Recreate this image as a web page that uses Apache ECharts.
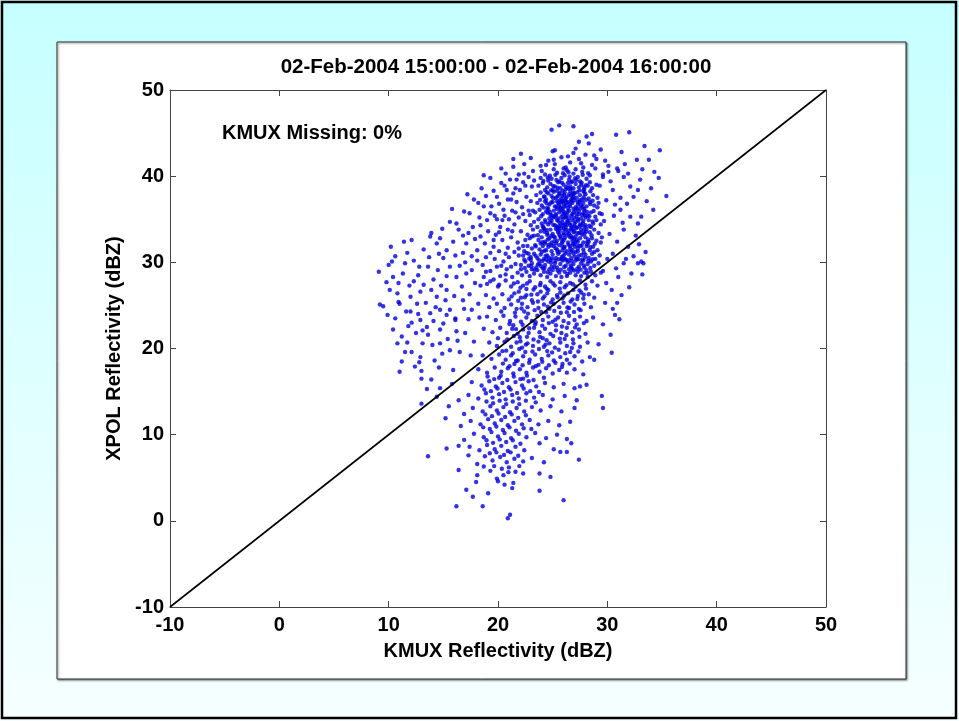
<!DOCTYPE html>
<html><head><meta charset="utf-8">
<script src="https://cdn.jsdelivr.net/npm/echarts@6/dist/echarts.min.js"></script>
<style>html,body{margin:0;padding:0;background:#fff}#c{width:959px;height:721px}</style>
</head><body><div id="c"></div><script>
const titleText = '02-Feb-2004 15:00:00 - 02-Feb-2004 16:00:00';
const xName = 'KMUX Reflectivity (dBZ)';
const yName = 'XPOL Reflectivity (dBZ)';
const noteText = 'KMUX Missing: 0%';
const axisMin = -10, axisMax = 50, axisStep = 10;
const identityLine = [[-10, -10], [50, 50]];

const topSparse = [[25.6,45.9],[26.9,45.8],[24.9,45.4],[30.8,44.8],[32.0,45.1],[28.1,44.6],[27.4,44.0],[28.3,43.8],[33.4,43.5],[34.8,43.0],[25.2,43.0],[25.8,42.2],[26.9,42.7],[28.0,42.5],[28.8,42.4],[29.4,43.1],[31.3,42.8],[32.7,41.9],[33.8,41.9],[34.3,40.5],[34.7,39.8],[35.4,37.7],[34.2,36.1],[32.8,34.5],[33.1,30.1],[33.3,29.9],[25.0,42.9],[24.6,41.8],[23.9,41.2],[27.6,41.5],[30.1,41.2],[31.0,40.6],[29.6,40.2],[26.2,41.0],[23.2,40.6],[22.4,40.3]];

const upperRight = [[29.6,39.9],[30.1,40.5],[30.9,40.9],[31.5,39.9],[32.1,38.8],[32.4,37.6],[32.8,38.4],[31.8,36.8],[31.2,36.1],[30.5,38.4],[29.9,37.2],[32.1,35.3],[33.1,35.3],[31.5,33.8],[30.9,32.4],[31.9,31.8],[32.4,30.7],[31.5,29.9],[30.5,31.0],[32.8,29.9],[31.0,28.3],[29.9,27.6],[33.6,37.1],[34.0,38.6],[33.0,39.6],[31.9,40.3],[29.3,38.9],[30.3,39.4],[29.1,36.4],[30.6,35.4],[29.7,34.8],[30.2,33.3],[29.4,32.3],[30.0,30.4],[31.4,34.6],[32.6,33.1],[31.2,37.5],[28.9,40.9],[29.8,41.8],[31.6,41.4],[33.2,40.8],[30.7,36.7],[29.5,35.6],[32.9,32.1],[33.5,31.2],[31.7,30.4],[30.8,29.3],[32.2,28.7],[33.2,28.6],[29.6,29.0],[30.4,26.8],[31.3,26.2],[32.0,27.1],[29.8,25.3],[30.5,24.6],[31.1,23.4],[29.6,22.8],[30.3,21.6],[29.2,20.5],[28.8,18.7],[30.4,19.5],[29.5,14.5],[29.6,13.1],[28.1,15.8],[27.5,15.6],[30.7,23.9],[30.9,25.3],[28.6,44.9],[27.1,43.2],[29.0,42.0]];

const denseCore = [[24.3,40.2],[24.9,39.7],[25.4,40.4],[25.8,39.8],[26.1,40.1],[26.5,39.6],[26.9,40.3],[27.3,39.9],[27.7,40.5],[28.1,39.7],[25.1,40.8],[26.3,40.7],[27.1,40.8],[24.6,39.5],[25.6,39.4],[26.7,39.3],[27.5,39.4],[28.4,40.1],[23.9,39.8],[26.0,40.9],
[23.7,38.9],[24.1,39.2],[24.5,38.7],[24.8,39.1],[25.2,38.8],[25.5,39.3],[25.7,38.6],[26.0,39.0],[26.2,38.5],[26.4,39.2],[26.6,38.8],[26.9,38.6],[27.1,39.1],[27.4,38.7],[27.6,39.0],[27.9,38.5],[28.2,38.9],[28.6,38.6],[29.0,39.0],[25.0,38.4],[25.9,38.3],[26.8,39.4],[27.8,38.3],[24.3,38.4],[28.4,39.3],
[23.5,37.8],[23.9,38.1],[24.2,37.6],[24.6,38.0],[24.9,37.7],[25.1,38.2],[25.3,37.5],[25.6,37.9],[25.8,37.4],[26.1,38.1],[26.3,37.6],[26.5,37.9],[26.7,37.3],[27.0,38.0],[27.2,37.5],[27.5,37.8],[27.7,37.3],[28.0,37.9],[28.3,37.4],[28.7,37.8],[29.1,37.5],[25.4,38.3],[26.6,38.3],[27.9,38.1],[24.4,37.3],[26.9,37.6],[25.9,37.7],
[23.6,36.9],[24.0,36.6],[24.3,37.1],[24.7,36.7],[25.0,37.0],[25.2,36.5],[25.5,36.9],[25.7,36.4],[25.9,37.1],[26.2,36.6],[26.4,37.0],[26.6,36.5],[26.8,36.9],[27.1,36.4],[27.3,37.0],[27.6,36.6],[27.8,36.9],[28.1,36.5],[28.4,37.0],[28.8,36.6],[29.2,36.9],[24.5,36.3],[25.4,36.2],[26.1,37.2],[27.0,37.2],[27.9,36.2],[26.9,36.2],[25.6,36.7],
[23.4,35.8],[23.8,36.1],[24.1,35.6],[24.4,35.9],[24.8,35.5],[25.1,36.0],[25.3,35.4],[25.6,35.8],[25.8,35.3],[26.0,35.9],[26.3,35.5],[26.5,36.0],[26.7,35.4],[26.9,35.8],[27.2,35.3],[27.4,35.9],[27.7,35.5],[27.9,36.0],[28.2,35.4],[28.5,35.8],[28.9,35.3],[29.3,35.7],[24.6,36.2],[25.9,36.2],[27.1,36.1],[26.2,35.2],[28.0,35.2],[25.0,35.2],
[23.3,34.7],[23.7,35.0],[24.0,34.5],[24.3,34.9],[24.6,34.4],[24.9,34.8],[25.2,34.3],[25.4,34.9],[25.7,34.5],[25.9,35.0],[26.1,34.4],[26.4,34.8],[26.6,34.3],[26.8,34.9],[27.0,34.5],[27.3,35.0],[27.5,34.4],[27.8,34.8],[28.0,34.3],[28.3,34.9],[28.7,34.5],[29.0,34.9],[29.4,34.4],[25.5,35.1],[26.5,35.1],[27.6,35.1],[24.7,35.1],[26.2,34.1],[27.9,34.1],
[23.2,33.8],[23.6,34.1],[23.9,33.6],[24.2,33.9],[24.5,33.4],[24.8,33.8],[25.0,33.3],[25.3,33.9],[25.5,33.5],[25.8,34.0],[26.0,33.4],[26.2,33.8],[26.5,33.3],[26.7,33.9],[26.9,33.5],[27.2,34.0],[27.4,33.4],[27.6,33.8],[27.9,33.3],[28.1,33.9],[28.4,33.5],[28.8,33.8],[29.2,33.4],[24.1,34.2],[25.6,34.2],[27.0,34.2],[28.5,34.1],[26.3,33.1],[25.1,33.0],
[22.9,32.8],[23.3,33.1],[23.7,32.6],[24.0,32.9],[24.3,32.4],[24.7,32.8],[24.9,32.3],[25.2,32.9],[25.4,32.5],[25.7,33.0],[25.9,32.4],[26.1,32.8],[26.4,32.3],[26.6,32.9],[26.8,32.5],[27.1,33.0],[27.3,32.4],[27.5,32.8],[27.8,32.3],[28.0,32.9],[28.3,32.4],[28.6,32.8],[29.0,32.5],[29.5,32.9],[24.5,33.2],[26.0,33.2],[27.7,33.2],[23.9,32.2],[26.9,32.1],
[22.7,31.9],[23.1,31.6],[23.4,32.0],[23.8,31.5],[24.1,31.9],[24.4,31.4],[24.6,31.8],[24.9,31.3],[25.1,31.9],[25.4,31.5],[25.6,32.0],[25.9,31.4],[26.1,31.8],[26.3,31.3],[26.6,31.9],[26.8,31.4],[27.0,31.8],[27.3,31.3],[27.5,31.9],[27.8,31.5],[28.1,31.9],[28.4,31.4],[28.7,31.8],[29.1,31.4],[22.4,31.3],[25.3,32.2],[26.9,32.2],[28.2,32.1],[24.3,32.2],
[22.3,30.8],[22.6,31.1],[23.0,30.6],[23.3,31.0],[23.6,30.5],[23.9,30.9],[24.2,30.4],[24.5,30.8],[24.8,30.3],[25.0,30.9],[25.3,30.5],[25.5,31.0],[25.8,30.4],[26.0,30.8],[26.2,30.3],[26.5,30.9],[26.7,30.5],[26.9,31.0],[27.2,30.4],[27.4,30.8],[27.7,30.3],[28.0,30.9],[28.3,30.5],[28.6,31.0],[28.9,30.4],[29.3,30.8],[24.0,31.2],[25.6,31.2],[27.1,31.2],[28.8,31.2],
[22.1,29.7],[22.5,30.1],[22.8,29.6],[23.1,29.9],[23.5,29.4],[23.8,29.8],[24.1,29.3],[24.3,29.7],[24.6,30.1],[24.9,29.5],[25.2,29.9],[25.4,29.4],[25.7,29.8],[25.9,30.2],[26.2,29.6],[26.4,30.0],[26.7,29.4],[26.9,29.8],[27.1,30.2],[27.4,29.5],[27.6,29.9],[27.9,29.4],[28.2,29.8],[28.5,30.1],[28.8,29.6],[29.2,29.9],[23.0,30.3],[24.4,30.3],[26.1,30.4],[27.8,30.2],
[21.8,28.8],[22.2,28.5],[22.6,28.9],[22.9,28.4],[23.3,28.7],[23.6,29.1],[23.9,28.5],[24.2,28.9],[24.5,28.3],[24.8,28.7],[25.0,29.1],[25.3,28.4],[25.6,28.8],[25.8,28.3],[26.1,28.9],[26.3,28.4],[26.6,28.8],[26.8,29.2],[27.1,28.5],[27.3,28.9],[27.6,28.4],[27.9,28.8],[28.2,28.3],[28.5,28.9],[28.9,28.5],[29.4,28.8],[23.1,29.2],[24.7,29.2],[26.5,29.2],[28.1,29.1],
[25.7,36.3],[26.2,37.4],[26.8,35.6],[27.3,36.7],[25.9,34.6],[26.5,33.7],[27.1,34.7],[26.0,32.6],[26.6,31.6],[27.2,32.6],[25.6,33.2],[26.4,36.3],[27.5,37.2],[25.3,35.6],[26.9,38.1],[27.4,35.6],[25.8,37.0],[26.3,34.7],[27.0,33.6],[26.7,37.1],[25.5,34.0],[27.6,34.3],[26.1,35.7],[26.8,32.9],[25.9,31.8],[27.3,31.6],[26.4,38.6],[27.8,35.7],[25.4,37.1],[26.0,36.8]];

const coreExtra = [[24.15,39.45],[24.75,40.05],[25.35,39.55],[25.95,40.35],[26.55,39.95],[27.15,39.55],[27.75,40.15],[24.45,38.15],[25.05,38.85],[25.65,38.05],[26.25,38.75],[26.85,37.95],[27.45,38.35],[28.05,38.95],[23.85,37.25],[24.45,36.85],[25.05,37.45],[25.65,37.15],[26.25,36.95],[26.85,37.45],[27.45,36.95],[28.05,37.25],[28.65,37.15],[23.95,35.35],[24.55,35.75],[25.15,35.25],[25.75,36.05],[26.35,35.85],[26.95,35.15],[27.55,36.25],[28.15,35.85],[28.75,35.95],[24.15,34.05],[24.75,34.65],[25.35,34.15],[25.95,34.25],[26.55,34.55],[27.15,34.05],[27.75,34.55],[28.35,34.25],[23.65,33.15],[24.25,33.55],[24.85,33.05],[25.45,33.75],[26.05,33.85],[26.65,33.05],[27.25,33.35],[27.85,33.65],[28.55,33.15],[23.45,31.85],[24.05,32.35],[24.65,32.05],[25.25,31.65],[25.85,32.25],[26.45,32.05],[27.05,32.35],[27.65,31.95],[28.25,32.65],[28.85,32.15],[22.85,30.45],[23.45,30.75],[24.05,30.15],[24.65,30.55],[25.25,30.15],[25.85,30.65],[26.45,30.25],[27.05,30.65],[27.65,30.85],[28.25,30.15],[22.45,29.35],[23.05,29.55],[23.65,29.75],[24.25,29.35],[24.85,29.95],[25.45,29.05],[26.05,29.45],[26.65,29.65],[27.25,29.25],[27.85,29.65],[28.45,29.35],[25.2,41.4],[26.6,41.6],[27.8,41.0],[24.0,40.6],[28.6,41.3]];

const coreExtra2 = [[24.55,39.85],[25.25,40.15],[25.85,39.25],[26.45,40.45],[27.05,39.75],[27.65,39.25],[28.25,40.35],[24.85,38.35],[25.45,38.65],[26.05,37.85],[26.65,38.55],[27.25,38.15],[27.85,38.75],[28.45,38.25],[24.25,37.65],[24.85,36.95],[25.45,37.65],[26.05,36.45],[26.65,37.75],[27.25,36.25],[27.85,37.55],[28.45,36.75],[24.15,36.35],[24.75,35.85],[25.35,36.45],[25.95,35.55],[26.55,36.75],[27.15,35.65],[27.75,36.45],[28.35,35.35],[24.35,34.65],[24.95,35.45],[25.55,34.75],[26.15,35.25],[26.75,34.15],[27.35,34.85],[27.95,35.45],[28.65,34.75],[24.45,33.75],[25.05,34.35],[25.65,33.65],[26.25,34.35],[26.85,33.75],[27.45,34.15],[28.05,33.55],[24.55,32.65],[25.15,32.45],[25.75,32.75],[26.35,33.45],[26.95,32.75],[27.55,33.45],[28.15,32.35],[24.25,31.35],[24.85,31.95],[25.45,31.25],[26.05,31.65],[26.65,31.25],[27.25,31.95],[27.85,31.15],[28.45,31.75],[23.75,30.25],[24.35,30.75],[24.95,30.45],[25.55,30.35],[26.15,31.05],[26.75,30.15],[27.35,30.35],[27.95,30.55],[28.65,30.35],[23.35,29.15],[23.95,29.55],[24.55,28.85],[25.15,29.45],[25.75,29.15],[26.35,28.65],[26.95,29.05],[27.55,29.15],[28.15,28.75],[25.1,41.9],[26.4,42.3],[27.4,42.0],[24.4,41.3]];

const upperLeft = [[18.1,31.4],[17.7,34.1],[19.0,34.9],[18.7,36.5],[19.4,36.5],[19.9,37.6],[20.8,38.4],[21.1,39.6],[21.7,39.6],[20.5,36.1],[20.2,34.1],[19.6,32.6],[19.3,31.1],[19.9,29.5],[18.7,28.3],[17.1,32.2],[18.4,33.0],[17.6,30.7],[17.1,28.7],[21.9,40.2],[22.3,39.3],[22.8,39.9],[23.1,38.8],[22.0,38.4],[21.4,38.0],[22.6,37.6],[23.0,37.1],[21.7,37.0],[20.9,37.3],[22.2,36.4],[22.8,36.0],[21.3,36.0],[20.6,35.4],[21.9,35.2],[22.5,34.8],[23.0,34.3],[21.5,34.4],[20.9,33.8],[22.1,33.6],[22.7,33.2],[21.2,32.9],[20.4,32.6],[21.8,32.3],[22.3,31.9],[20.9,31.7],[20.1,31.3],[21.5,31.2],[21.0,30.6],[20.5,30.1],[21.6,29.8],[20.8,29.2],[19.7,30.4],[19.3,29.0],[20.2,28.4],[21.3,28.3],[19.0,27.5],[20.0,27.2],[18.6,29.7],[19.1,33.6],[18.3,35.2],[19.7,35.4],[20.3,39.2],[19.6,38.3],[18.9,37.7],[18.2,36.9],[17.4,35.7],[20.7,40.3],[21.4,41.1],[22.4,41.4],[23.0,42.1],[22.1,42.6],[19.3,39.8],[18.5,38.6],[17.8,37.3],[22.9,35.5],[23.1,33.0],[22.8,31.0],[22.4,30.3],[21.9,30.8],[23.2,36.0],[23.3,39.5],[20.4,34.9],[21.0,35.0],[19.8,33.2],[18.8,32.2],[17.3,33.4],[16.8,31.1],[16.5,29.6],[18.1,30.2],[17.9,27.6],[16.2,34.5],[16.4,33.8],[15.6,34.7],[15.9,32.4],[15.3,31.4],[15.0,30.5],[14.5,29.1],[15.6,29.5],[16.2,28.3],[16.7,27.2],[13.8,33.0],[13.9,33.4],[14.4,32.2],[14.7,32.8]];

const upperLeftExtra = [[15.8,36.2],[16.9,35.9],[17.2,37.9],[18.4,34.3],[19.3,35.7],[20.1,36.8],[20.6,38.9],[21.6,38.6],[22.5,38.9],[21.2,37.3],[22.3,35.6],[21.6,35.8],[20.1,33.5],[21.3,33.6],[22.5,32.6],[19.6,31.8],[20.7,31.0],[21.9,31.6],[18.9,30.6],[20.3,29.6],[21.2,29.5],[22.1,29.2],[17.6,29.1],[18.9,28.9],[19.6,28.0],[20.7,28.6],[15.3,28.4],[16.1,30.8],[17.9,32.7],[16.8,33.1],[14.9,33.9],[17.0,30.0],[21.4,42.0],[20.3,40.9],[18.7,40.1],[19.9,35.0]];

const leftWing = [[9.1,28.9],[10.0,29.7],[10.6,30.7],[11.7,31.1],[11.5,29.9],[10.4,28.3],[10.9,27.6],[10.1,26.8],[9.5,24.9],[11.0,25.2],[12.0,26.0],[12.9,26.6],[12.7,28.5],[13.6,29.5],[15.3,26.8],[14.4,26.0],[14.7,24.5],[13.8,24.1],[12.9,23.3],[15.6,24.5],[16.1,23.5],[17.6,24.5],[10.9,25.4],[10.6,23.5],[10.4,22.2],[12.0,24.3],[12.7,24.0],[12.1,23.0],[11.2,21.4],[13.5,22.5],[13.6,21.6],[13.1,20.6],[12.1,19.6],[11.5,19.6],[12.9,19.0],[11.0,17.3],[12.4,17.9],[13.0,17.4],[13.0,16.5],[13.9,16.4],[14.7,15.4],[14.4,14.4],[13.0,13.6],[13.6,7.5],[14.9,19.4],[14.7,20.6],[14.7,22.2],[15.3,23.9],[16.1,23.3],[16.2,22.0],[16.5,19.6],[17.0,21.8],[15.9,17.5],[16.4,14.0],[15.5,13.3],[15.2,11.9],[9.2,25.1],[9.8,27.7],[11.3,28.7],[12.3,30.2],[11.9,27.3],[13.2,27.4],[14.1,28.0],[14.8,27.3],[13.4,25.3],[12.5,21.8],[11.8,22.6],[10.8,20.6],[14.2,18.6],[15.4,21.1],[16.8,25.6],[17.4,26.3],[18.2,25.2],[16.0,26.1],[14.1,23.2],[13.2,31.5],[12.1,32.6],[14.6,31.0],[10.2,31.8]];

const leftWingExtra = [[10.3,30.1],[11.4,32.4],[12.8,29.5],[13.7,30.6],[12.3,27.8],[10.8,26.4],[9.9,23.9],[11.6,24.3],[12.6,25.2],[13.9,26.8],[15.2,25.6],[14.3,24.8],[13.1,22.1],[14.0,20.4],[11.7,20.7],[12.8,18.4],[14.6,17.8],[15.6,19.8],[16.3,20.9],[17.3,23.4],[15.0,22.9],[16.9,24.6],[11.2,18.5],[13.5,15.3],[15.8,15.9],[17.5,19.2],[17.8,20.8],[18.3,23.6]];

const middleBand = [[18.4,27.3],[19.3,27.8],[20.1,27.4],[20.7,27.9],[21.2,27.2],[21.8,27.7],[22.3,27.3],[22.9,27.8],[23.4,27.1],[23.9,27.6],[24.3,27.2],[24.8,27.8],[25.2,27.3],[25.7,27.7],[26.1,27.1],[26.6,27.6],[27.1,27.2],[27.5,27.9],[28.0,27.4],[28.6,27.8],[29.1,27.3],[22.6,26.9],[24.6,26.8],[26.9,26.8],
[18.9,26.2],[19.6,25.8],[20.4,26.3],[21.0,25.7],[21.5,26.4],[22.1,25.9],[22.6,26.2],[23.1,25.6],[23.6,26.3],[24.1,25.8],[24.5,26.4],[25.0,25.7],[25.4,26.2],[25.9,25.8],[26.4,26.4],[26.8,25.7],[27.3,26.1],[27.8,25.8],[28.3,26.3],[28.8,25.9],[21.9,26.6],[23.9,26.6],[25.7,26.5],[27.6,26.5],
[19.2,24.8],[19.9,25.2],[20.6,24.7],[21.2,25.1],[21.7,24.6],[22.2,25.2],[22.7,24.8],[23.2,25.3],[23.7,24.7],[24.2,25.1],[24.7,24.6],[25.1,25.2],[25.6,24.8],[26.0,25.3],[26.5,24.7],[27.0,25.1],[27.4,24.6],[27.9,25.2],[28.5,24.8],[20.3,24.3],[22.4,24.3],[24.4,24.2],[26.3,24.2],
[19.0,23.7],[19.8,23.3],[20.5,23.8],[21.1,23.2],[21.6,23.7],[22.1,23.1],[22.6,23.6],[23.1,23.2],[23.6,23.8],[24.1,23.3],[24.6,23.7],[25.0,23.1],[25.5,23.6],[26.0,23.2],[26.5,23.8],[27.0,23.3],[27.5,23.7],[28.1,23.2],[28.7,23.6],[21.4,22.7],[23.4,22.8],[25.3,22.7],[27.2,22.8],
[18.7,22.3],[19.5,21.9],[20.2,22.4],[20.8,21.8],[21.3,22.3],[21.8,21.7],[22.3,22.2],[22.8,21.8],[23.3,22.4],[23.8,21.9],[24.3,22.3],[24.8,21.7],[25.3,22.1],[25.8,21.8],[26.3,22.4],[26.8,21.9],[27.4,22.2],[28.0,21.7],[20.0,21.2],[22.0,21.3],[24.1,21.2],[26.1,21.1],
[19.2,20.7],[19.9,20.3],[20.6,20.8],[21.2,20.2],[21.7,20.7],[22.2,20.1],[22.7,20.6],[23.2,20.3],[23.7,20.8],[24.2,20.2],[24.7,20.6],[25.2,20.1],[25.7,20.7],[26.3,20.3],[26.9,20.6],[27.5,20.2],[28.2,20.7],[20.4,19.7],[22.5,19.6],[24.5,19.7],[26.6,19.6],
[18.6,19.2],[19.4,18.8],[20.1,19.3],[20.7,18.7],[21.2,19.2],[21.8,18.6],[22.3,19.1],[22.9,18.7],[23.4,19.3],[24.0,18.8],[24.6,19.2],[25.1,18.6],[25.7,19.0],[26.3,18.7],[27.0,19.1],[27.7,18.5],[28.4,19.0],[21.5,18.2],[23.7,18.1],[25.9,18.2],
[18.2,17.6],[19.0,17.2],[19.7,17.8],[20.3,17.3],[20.9,17.7],[21.4,17.1],[22.0,17.6],[22.6,17.2],[23.2,17.8],[23.8,17.3],[24.4,17.7],[25.0,17.1],[25.6,17.5],[26.3,17.2],[27.0,17.6],[27.8,17.0],[20.1,16.6],[22.3,16.5],[24.2,16.6]];

const middleExtra = [[21.45,27.55],[22.05,27.05],[22.65,27.55],[23.25,26.85],[23.85,27.35],[24.45,26.95],[25.05,27.55],[25.65,26.95],[26.25,27.35],[26.85,27.45],[27.45,26.75],[28.05,26.95],
[21.25,26.05],[21.85,25.55],[22.45,25.95],[23.05,26.25],[23.65,25.45],[24.25,26.05],[24.85,25.35],[25.45,25.95],[26.05,26.15],[26.65,25.45],[27.25,25.75],[27.85,26.25],
[21.55,24.15],[22.15,24.65],[22.75,24.05],[23.35,24.45],[23.95,24.25],[24.55,24.85],[25.15,24.35],[25.75,24.15],[26.35,24.75],[26.95,24.25],[27.55,24.45],
[21.05,22.85],[21.65,22.25],[22.25,22.75],[22.85,22.35],[23.45,23.05],[24.05,22.65],[24.65,22.95],[25.25,23.35],[25.85,22.55],[26.45,22.95],[27.05,22.45],[27.85,22.95],
[20.85,21.05],[21.45,21.45],[22.05,20.85],[22.65,21.35],[23.25,21.05],[23.85,21.35],[24.45,20.95],[25.05,21.45],[25.65,21.15],[26.25,21.55],[26.85,21.05],[27.45,21.35],
[20.75,19.75],[21.35,19.45],[21.95,19.95],[22.55,20.45],[23.15,19.65],[23.75,19.95],[24.35,20.45],[24.95,19.55],[25.55,19.85],[26.15,19.45],[26.75,20.05],[27.35,19.65],
[20.45,18.25],[21.05,17.95],[21.65,18.55],[22.25,18.05],[22.85,18.35],[23.45,17.95],[24.05,18.45],[24.65,18.05],[25.25,18.35],[25.85,17.85],[26.55,18.25]];

const lowerTail = [[17.6,16.1],[18.5,15.7],[19.2,16.2],[19.8,15.6],[20.4,16.0],[21.0,15.5],[21.6,16.1],[22.2,15.7],[22.8,16.2],[23.5,15.6],[24.3,16.0],[25.1,15.5],[26.0,15.9],[27.0,15.4],
[17.3,14.6],[18.2,14.2],[18.9,14.8],[19.5,14.3],[20.1,14.7],[20.7,14.1],[21.3,14.6],[21.9,14.2],[22.6,14.8],[23.3,14.3],[24.1,14.6],[25.0,14.1],[26.1,14.5],[27.2,14.0],
[17.7,13.1],[18.6,12.7],[19.3,13.3],[19.9,12.8],[20.5,13.2],[21.1,12.6],[21.7,13.1],[22.4,12.7],[23.1,13.2],[23.9,12.8],[24.8,13.3],[25.8,12.7],[16.9,12.4],[27.0,13.1],
[17.5,11.6],[18.4,11.2],[19.1,11.8],[19.7,11.3],[20.3,11.7],[20.9,11.1],[21.5,11.6],[22.2,11.2],[22.9,11.7],[23.7,11.2],[24.6,11.6],[25.6,11.1],[26.6,11.5],[16.6,11.0],
[17.8,10.1],[18.7,9.7],[19.4,10.3],[20.0,9.8],[20.6,10.2],[21.2,9.6],[21.9,10.1],[22.6,9.7],[23.4,10.2],[24.4,9.6],[25.4,10.0],[16.9,9.4],[26.3,9.5],
[17.4,8.6],[18.3,8.2],[19.0,8.8],[19.7,8.3],[20.3,8.7],[20.9,8.1],[21.6,8.6],[22.4,8.2],[23.8,9.0],[25.1,8.3],[25.7,8.0],[26.3,8.0],[26.7,9.0],[16.4,8.7],[15.3,8.4],
[17.3,7.6],[18.8,7.5],[19.5,7.0],[20.2,7.4],[20.8,6.8],[21.5,7.2],[22.3,6.9],[23.1,7.3],[24.2,6.8],[27.4,7.1],[18.1,6.6],
[16.4,5.9],[18.1,5.3],[18.7,6.3],[19.9,4.9],[20.0,4.6],[20.5,5.3],[21.6,5.7],[22.3,5.5],[23.8,5.5],[24.8,5.1],[19.3,5.8],[21.0,6.2],
[17.1,3.6],[17.7,2.8],[18.0,4.5],[20.6,4.2],[21.4,4.4],[21.3,3.8],[23.8,3.5],[26.0,2.4],[19.1,3.2],
[16.2,1.7],[18.6,1.7],[20.9,0.3],[21.1,0.7]];

const lowerExtra = [[19.05,16.75],[19.65,16.45],[20.25,16.85],[20.85,16.35],[21.45,16.75],[22.05,16.45],[22.65,16.85],[23.25,16.35],
[18.75,15.25],[19.35,15.05],[19.95,15.35],[20.55,14.95],[21.15,15.25],[21.75,14.85],[22.35,15.35],[22.95,15.05],[23.75,14.95],
[18.95,13.85],[19.55,13.65],[20.15,13.95],[20.75,13.55],[21.35,13.85],[21.95,13.55],[22.55,13.95],[23.45,13.75],
[18.85,12.35],[19.45,12.15],[20.05,12.45],[20.65,12.05],[21.25,12.35],[21.85,11.95],[22.55,12.25],
[18.65,10.85],[19.25,10.65],[19.85,10.95],[20.45,10.55],[21.05,10.85],[21.65,10.45],[22.35,10.75],[23.05,10.65],
[18.95,9.35],[19.55,9.05],[20.15,9.45],[20.75,9.15],[21.35,9.35],[22.05,8.95],
[19.25,7.85],[19.85,7.95],[20.55,7.65],[21.15,7.95],[21.85,7.55],
[19.65,6.35],[20.35,6.05],[20.95,5.65],[21.95,6.35]];

const allPoints = [].concat(topSparse, upperRight, denseCore, coreExtra, coreExtra2, upperLeft, upperLeftExtra, leftWing, leftWingExtra, middleBand, middleExtra, lowerTail, lowerExtra);

const FONT = '"Liberation Sans", Arial, Helvetica, sans-serif';
const chart = echarts.init(document.getElementById('c'), null, {renderer: 'canvas'});

const tickStyle = {show: true, inside: true, length: 6, lineStyle: {color: '#444', width: 1}};
const lineStyle = {show: true, onZero: false, lineStyle: {color: '#444', width: 1}};
const labelStyle = {color: '#000', fontFamily: FONT, fontWeight: 'bold', fontSize: 20};

chart.setOption({
  animation: false,
  backgroundColor: 'transparent',
  graphic: [
    {type: 'rect', z: -20, silent: true, shape: {x: 0, y: 0, width: 959, height: 721},
     style: {fill: new echarts.graphic.LinearGradient(0, 0, 0, 1, [{offset: 0, color: '#c6ffff'}, {offset: 1, color: '#f6ffff'}])}},
    {type: 'rect', z: -19, silent: true, shape: {x: 2, y: 2, width: 954, height: 716},
     style: {fill: 'none', stroke: '#000', lineWidth: 2.5}},
    {type: 'rect', z: -18, silent: true, shape: {x: 57, y: 42, width: 849, height: 637},
     style: {fill: '#fff', stroke: '#333', lineWidth: 1, shadowBlur: 2, shadowOffsetX: 1, shadowOffsetY: 1, shadowColor: 'rgba(0,0,0,0.5)'}},
    {type: 'text', z: 10, silent: true, x: 496, y: 67,
     style: {text: titleText, fill: '#000', font: 'bold 20.5px ' + FONT, textAlign: 'center', textVerticalAlign: 'middle'}},
    {type: 'text', z: 10, silent: true, x: 222, y: 133,
     style: {text: noteText, fill: '#000', font: 'bold 20px ' + FONT, textAlign: 'left', textVerticalAlign: 'middle'}}
  ],
  grid: {left: 170, top: 90, width: 656, height: 517, containLabel: false, show: false},
  xAxis: [
    {type: 'value', min: axisMin, max: axisMax, interval: axisStep, position: 'bottom',
     name: xName, nameLocation: 'middle', nameGap: 34,
     nameTextStyle: {color: '#000', fontFamily: FONT, fontWeight: 'bold', fontSize: 20},
     axisLine: lineStyle, axisTick: tickStyle, splitLine: {show: false},
     axisLabel: Object.assign({margin: 8}, labelStyle)},
    {type: 'value', min: axisMin, max: axisMax, interval: axisStep, position: 'top',
     axisLine: lineStyle, axisTick: tickStyle, splitLine: {show: false}, axisLabel: {show: false}}
  ],
  yAxis: [
    {type: 'value', min: axisMin, max: axisMax, interval: axisStep, position: 'left',
     name: yName, nameLocation: 'middle', nameGap: 42, nameRotate: 90,
     nameTextStyle: {color: '#000', fontFamily: FONT, fontWeight: 'bold', fontSize: 20},
     axisLine: lineStyle, axisTick: tickStyle, splitLine: {show: false},
     axisLabel: Object.assign({margin: 6}, labelStyle)},
    {type: 'value', min: axisMin, max: axisMax, interval: axisStep, position: 'right',
     axisLine: lineStyle, axisTick: tickStyle, splitLine: {show: false}, axisLabel: {show: false}}
  ],
  series: [
    {type: 'scatter', xAxisIndex: 0, yAxisIndex: 0, data: allPoints, symbol: 'circle', symbolSize: 4.4,
     itemStyle: {color: '#0000dd'}, z: 2, large: false, silent: true},
    {type: 'line', xAxisIndex: 0, yAxisIndex: 0, data: identityLine, showSymbol: false, symbol: 'none',
     lineStyle: {color: '#000', width: 1.6}, z: 5, silent: true}
  ]
});
</script></body></html>
